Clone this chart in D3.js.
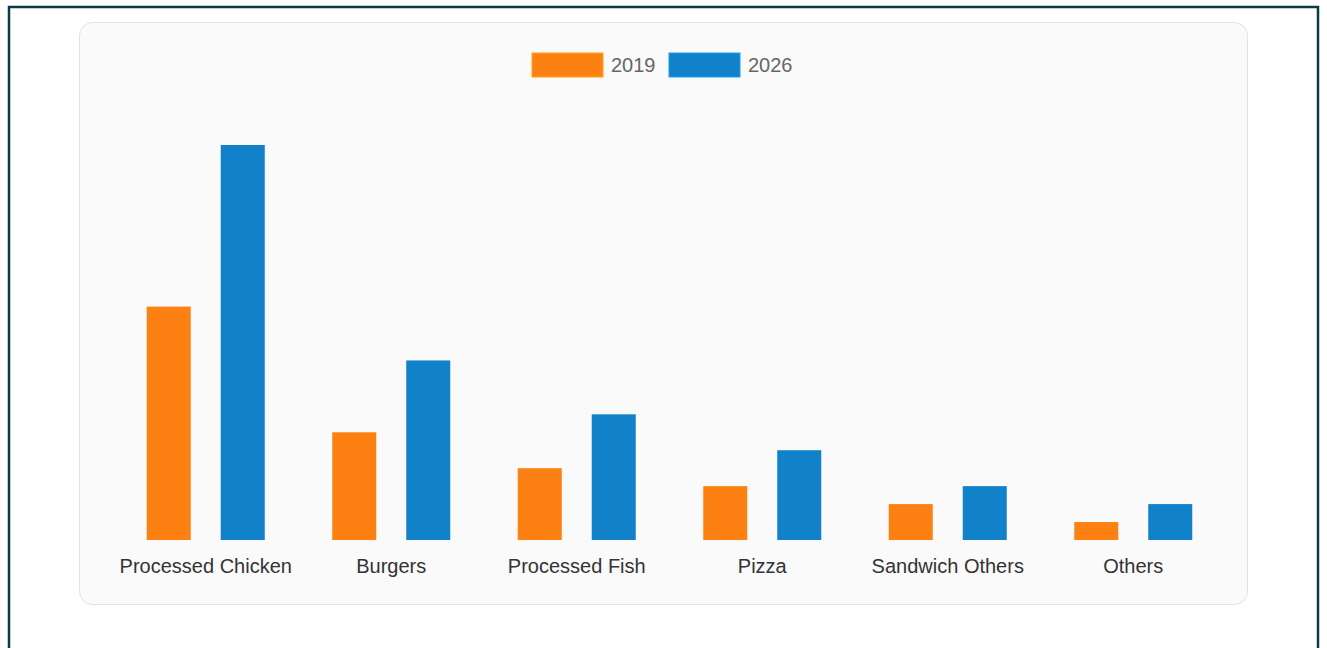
<!DOCTYPE html>
<html><head><meta charset="utf-8">
<script src="https://cdn.jsdelivr.net/npm/d3@7"></script>
<style>
html,body{margin:0;padding:0;background:#fff;}
svg{display:block;font-family:"Liberation Sans",Arial,sans-serif;}
</style></head>
<body><svg id="c" width="1327" height="648"></svg>
<script>
const categories = ["Processed Chicken","Burgers","Processed Fish","Pizza","Sandwich Others","Others"];
const seriesNames = ["2019","2026"];
const values2019 = [13,6,4,3,2,1];
const values2026 = [22,10,7,5,3,2];
const colors = ["#fd8013","#1181c9"];

const svg = d3.select("#c");
// outer frame
svg.append("rect").attr("x",9).attr("y",7).attr("width",1309).attr("height",660)
  .attr("fill","#fff").attr("stroke","#0b3a44").attr("stroke-width",2.5);
// card
svg.append("rect").attr("x",79.5).attr("y",22.5).attr("width",1168).attr("height",582).attr("rx",13)
  .attr("fill","#fafafa").attr("stroke","#e2e2e2").attr("stroke-width",1);

const x0 = d3.scaleBand().domain(categories).range([113,1226]).paddingInner(0).paddingOuter(0);
const x1 = d3.scaleBand().domain(seriesNames).range([0,x0.bandwidth()]).paddingInner(0.405).paddingOuter(0.456);
const y = d3.scaleLinear().domain([0,22]).range([540,145]);

const data = categories.map((c,i)=>({cat:c, vals:[values2019[i],values2026[i]]}));
const g = svg.append("g");
const groups = g.selectAll("g.cat").data(data).join("g").attr("transform",d=>`translate(${x0(d.cat)},0)`);
groups.selectAll("rect").data(d=>d.vals.map((v,j)=>({k:seriesNames[j],v,j}))).join("rect")
  .attr("x",d=>x1(d.k)).attr("width",x1.bandwidth())
  .attr("y",d=>y(d.v)).attr("height",d=>y(0)-y(d.v))
  .attr("fill",d=>colors[d.j]);

const xAxis = d3.axisBottom(x0).tickSize(0).tickPadding(0);
const ax = svg.append("g").attr("transform","translate(0,540)").call(xAxis);
ax.select(".domain").remove();
ax.selectAll("text").attr("dy",null).attr("y",33).attr("font-size",20).attr("fill","#333")
  .attr("font-family","'Liberation Sans',Arial,sans-serif");

// legend
const leg = svg.append("g");
const legX = [532,669];
seriesNames.forEach((s,i)=>{
  leg.append("rect").attr("x",legX[i]).attr("y",53).attr("width",71).attr("height",24)
    .attr("fill",colors[i]).attr("stroke",d3.color(colors[i]).brighter(0.6)).attr("stroke-width",1);
  leg.append("text").attr("x",legX[i]+79).attr("y",72).attr("font-size",20).attr("fill","#666").text(s);
});
</script></body></html>
